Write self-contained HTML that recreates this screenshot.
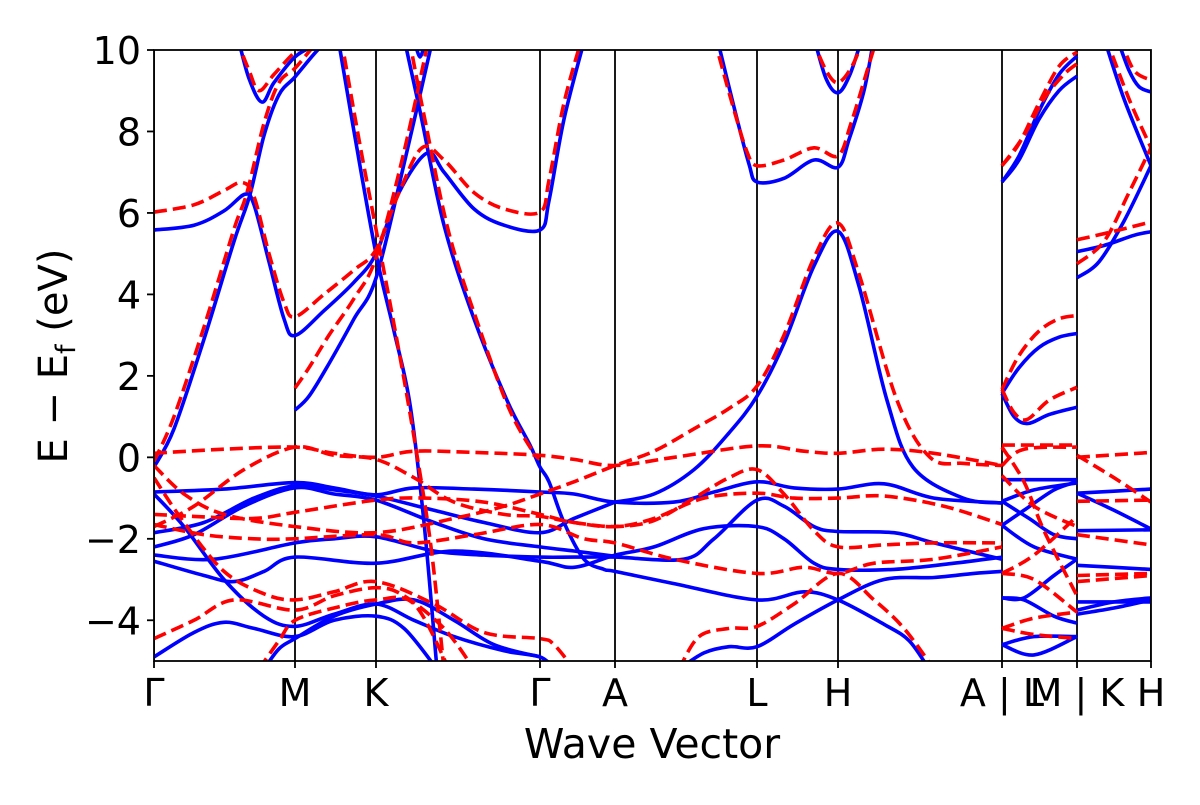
<!DOCTYPE html>
<html><head><meta charset="utf-8"><style>
html,body{margin:0;padding:0;background:#fff;}
svg text{font-family:"DejaVu Sans","Liberation Sans",sans-serif;fill:#000;}
</style></head><body>
<svg id="chart" width="1200" height="800" viewBox="0 0 1200 800" xmlns="http://www.w3.org/2000/svg">
<defs><clipPath id="plotclip"><rect x="154" y="50" width="997" height="611"/></clipPath></defs>
<rect width="1200" height="800" fill="#fff"/>
<g id="plot" clip-path="url(#plotclip)"></g>
<g id="axes"></g>
</svg>
<script>
const tickK = [0, 1.41, 2.22, 3.86, 4.61, 6.03, 6.84, 8.48, 9.23, 9.97];
const tickLabels = ["Γ", "M", "K", "Γ", "A", "L", "H", "A | L", "M | K", "H"];
const yTicks = [-4, -2, 0, 2, 4, 6, 8, 10];
const yTickLabels = ["−4", "−2", "0", "2", "4", "6", "8", "10"];
const kRange = [0, 9.97];
const eRange = [-5, 10];

const blueBands = [
 [[0,5.58],[0.4,5.7],[0.7,6.05],[0.91,6.46],[1.0,6.2],[1.15,4.8],[1.3,3.4],[1.41,2.99],[1.7,3.6],[2.0,4.3],[2.22,5.0],[2.45,6.5],[2.73,7.47],[2.9,7.0],[3.2,6.1],[3.5,5.7],[3.86,5.58],[3.95,6.3],[4.1,8.3],[4.31,10.3]],
 [[0,-0.24],[0.2,0.7],[0.5,2.9],[0.8,5.3],[0.96,6.45],[1.1,7.9],[1.25,8.9],[1.41,9.34],[1.6,9.9],[1.75,10.3]],
 [[0.84,10.3],[0.95,9.3],[1.08,8.72],[1.2,9.2],[1.41,9.83],[1.6,10.1],[1.8,10.3]],
 [[1.41,1.16],[1.55,1.5],[1.75,2.3],[2.0,3.4],[2.22,4.4],[2.5,7.2],[2.79,10.3]],
 [[1.84,10.3],[2.0,8.0],[2.22,5.0],[2.4,3.1],[2.56,1.3],[2.7,-1.6],[2.83,-5.2]],
 [[2.5,10.3],[2.66,8.5],[2.9,5.7],[3.2,3.4],[3.53,1.4],[3.76,0.3],[3.86,-0.24],[3.95,-0.6],[4.1,-1.6],[4.3,-2.5],[4.5,-2.75],[4.61,-2.8],[5.2,-3.1],[6.03,-3.5],[6.5,-3.3],[6.84,-3.5],[7.3,-4.1],[7.55,-4.5],[7.75,-5.2]],
 [[2.6,10.3],[2.66,9.83],[2.72,10.3]],
 [[0,-0.85],[0.7,-0.78],[1.41,-0.62],[1.8,-0.75],[2.22,-0.92],[2.6,-0.75],[3.2,-0.78],[3.86,-0.85],[4.2,-0.9],[4.61,-1.1],[5.2,-1.1],[5.6,-0.85],[6.03,-0.6],[6.4,-0.75],[6.84,-0.78],[7.3,-0.65],[7.8,-1.0],[8.48,-1.12]],
 [[0,-1.85],[0.5,-1.6],[1.0,-1.0],[1.41,-0.7],[1.8,-0.8],[2.22,-0.95],[2.8,-1.3],[3.3,-1.6],[3.86,-1.85],[4.2,-1.5],[4.61,-1.1]],
 [[0,-2.2],[0.4,-1.9],[0.9,-1.2],[1.41,-0.75],[1.8,-0.9],[2.22,-1.05],[2.8,-1.6],[3.3,-2.0],[3.86,-2.2],[4.2,-2.3],[4.61,-2.43]],
 [[0,-2.4],[0.6,-2.5],[1.41,-2.1],[1.8,-2.0],[2.22,-1.95],[2.8,-2.3],[3.3,-2.4],[3.86,-2.45],[4.2,-2.45],[4.61,-2.45],[5.3,-2.5],[5.6,-2.0],[6.03,-1.05],[6.3,-1.2],[6.6,-1.7],[6.84,-1.82],[7.4,-1.85],[7.8,-2.1],[8.48,-2.5]],
 [[0,-2.55],[0.5,-2.9],[0.8,-3.05],[1.1,-2.8],[1.41,-2.45],[2.22,-2.6],[3.0,-2.3],[3.86,-2.55],[4.2,-2.7],[4.61,-2.4],[5.0,-2.2],[5.5,-1.75],[6.03,-1.7],[6.3,-2.0],[6.6,-2.6],[6.84,-2.75],[7.4,-2.75],[8.0,-2.6],[8.48,-2.45]],
 [[0,-0.9],[0.3,-1.7],[0.7,-3.0],[1.1,-3.9],[1.41,-4.15],[1.8,-3.85],[2.22,-3.6],[2.6,-4.0],[3.0,-4.4],[3.5,-4.75],[3.86,-4.9],[4.0,-5.2]],
 [[0,-4.9],[0.4,-4.3],[0.7,-4.05],[1.0,-4.2],[1.41,-4.4],[1.8,-4.0],[2.22,-3.9],[2.5,-4.2],[2.83,-5.2]],
 [[1.1,-5.2],[1.25,-4.7],[1.41,-4.45],[1.8,-3.9],[2.22,-3.6],[2.6,-3.5],[3.0,-4.0],[3.4,-4.6],[3.86,-4.9]],
 [[4.61,-1.1],[5.0,-0.9],[5.4,-0.3],[5.75,0.6],[6.03,1.5],[6.3,2.8],[6.6,4.7],[6.84,5.55],[7.05,4.2],[7.33,1.4],[7.59,-0.24],[8.09,-1.0],[8.48,-1.12]],
 [[5.25,-5.2],[5.5,-4.8],[5.75,-4.65],[6.03,-4.65],[6.4,-4.1],[6.84,-3.5],[7.3,-3.0],[7.8,-2.95],[8.2,-2.85],[8.48,-2.8]],
 [[5.63,10.3],[5.8,8.6],[5.95,7.2],[6.03,6.76],[6.3,6.85],[6.6,7.3],[6.84,7.12],[6.95,7.8],[7.1,9.0],[7.2,10.3]],
 [[6.6,10.3],[6.72,9.3],[6.84,8.95],[6.96,9.4],[7.08,10.3]],
 [[8.48,6.76],[8.65,7.3],[8.85,8.3],[9.05,9.0],[9.23,9.36]],
 [[8.48,6.76],[8.65,7.4],[8.85,8.5],[9.05,9.4],[9.23,9.85]],
 [[8.48,1.57],[8.65,2.2],[8.85,2.7],[9.05,2.95],[9.23,3.04]],
 [[8.48,1.57],[8.6,1.0],[8.74,0.83],[8.95,1.05],[9.23,1.23]],
 [[8.48,-0.55],[9.23,-0.55]],
 [[8.48,-1.08],[8.8,-0.8],[9.23,-0.63]],
 [[8.48,-1.08],[8.75,-1.5],[9.0,-1.9],[9.23,-2.0]],
 [[8.48,-1.67],[8.7,-1.3],[9.0,-0.8],[9.23,-0.6]],
 [[8.48,-1.67],[8.8,-2.2],[9.23,-2.5]],
 [[8.48,-3.45],[8.7,-3.45],[9.0,-2.9],[9.23,-2.5]],
 [[8.48,-3.45],[8.7,-3.5],[9.0,-3.9],[9.23,-4.07]],
 [[8.48,-4.6],[8.8,-4.4],[9.23,-4.4]],
 [[8.48,-4.6],[8.8,-4.85],[9.23,-4.4]],
 [[9.23,5.05],[9.5,5.2],[9.8,5.45],[9.97,5.54]],
 [[9.23,4.41],[9.45,4.8],[9.7,5.8],[9.97,7.16]],
 [[9.5,10.3],[9.7,8.8],[9.97,7.16]],
 [[9.63,10.3],[9.75,9.5],[9.85,9.1],[9.97,8.97]],
 [[9.23,-0.88],[9.97,-0.78]],
 [[9.23,-0.88],[9.6,-1.3],[9.97,-1.76]],
 [[9.23,-1.8],[9.97,-1.78]],
 [[9.23,-2.65],[9.97,-2.75]],
 [[9.23,-3.55],[9.97,-3.55]],
 [[9.23,-3.85],[9.6,-3.7],[9.97,-3.5]],
 [[9.23,-3.75],[9.6,-3.55],[9.97,-3.45]]
];

const redBands = [
 [[0,6.02],[0.4,6.2],[0.7,6.55],[0.88,6.75],[1.0,6.4],[1.15,5.0],[1.3,3.8],[1.41,3.45],[1.7,4.0],[2.0,4.6],[2.22,5.1],[2.45,6.5],[2.68,7.6],[2.9,7.3],[3.2,6.5],[3.5,6.1],[3.86,6.02],[3.95,6.8],[4.1,8.7],[4.28,10.3]],
 [[0,-0.1],[0.2,1.0],[0.5,3.2],[0.8,5.6],[0.93,6.5],[1.1,8.2],[1.25,9.2],[1.41,9.55],[1.6,10.1],[1.7,10.3]],
 [[0.82,10.3],[0.95,9.5],[1.05,9.0],[1.2,9.4],[1.41,9.95],[1.6,10.3]],
 [[1.41,1.7],[1.55,2.2],[1.75,3.0],[2.0,3.9],[2.22,4.9],[2.5,7.5],[2.75,10.3]],
 [[1.87,10.3],[2.05,7.8],[2.22,5.6],[2.45,2.6],[2.62,0.2],[2.77,-2.2],[2.9,-5.2]],
 [[2.55,10.3],[2.7,8.4],[2.95,5.5],[3.25,3.2],[3.55,1.2],[3.8,0.1],[3.86,0.0]],
 [[0,0.1],[0.7,0.2],[1.41,0.25],[1.8,0.1],[2.22,0.0],[2.6,0.15],[3.2,0.12],[3.86,0.05],[4.2,-0.05],[4.61,-0.2],[5.2,0.0],[6.03,0.28],[6.5,0.15],[6.84,0.1],[7.3,0.2],[7.8,0.1],[8.48,-0.2]],
 [[0,-0.2],[0.3,-0.9],[0.7,-1.4],[1.41,-1.7],[2.22,-1.85],[3.0,-1.5],[3.5,-1.2],[3.86,-0.9],[4.2,-0.6],[4.61,-0.2],[5.0,0.15],[5.4,0.7],[5.75,1.2],[6.03,1.75],[6.3,3.0],[6.6,4.9],[6.84,5.75],[7.05,4.5],[7.43,1.4],[7.76,0.0],[8.1,-0.15],[8.48,-0.2]],
 [[0,-1.7],[0.4,-1.2],[0.9,-0.3],[1.41,0.25],[1.8,0.05],[2.22,-0.05],[2.6,-0.5],[3.0,-1.1],[3.5,-1.4],[3.86,-1.45],[4.2,-1.6],[4.61,-1.7],[5.0,-1.55],[5.4,-1.0],[5.75,-0.5],[6.03,-0.3],[6.3,-0.9],[6.6,-1.8],[6.84,-2.2],[7.3,-2.15],[7.8,-2.1],[8.48,-2.1]],
 [[0,-1.4],[0.4,-1.45],[1.0,-1.5],[1.41,-1.35],[2.22,-1.05],[2.7,-1.0],[3.3,-1.1],[3.86,-1.4],[4.2,-1.6],[4.61,-1.7],[5.0,-1.5],[5.5,-1.0],[6.03,-0.88],[6.4,-1.0],[6.84,-1.0],[7.3,-0.95],[7.9,-1.2],[8.48,-1.65]],
 [[0,-1.65],[0.5,-1.9],[1.0,-2.0],[1.41,-2.0],[2.22,-1.9],[2.6,-2.1],[3.2,-1.9],[3.86,-1.65],[4.3,-2.0],[4.61,-2.1],[5.2,-2.5],[6.03,-2.85],[6.5,-2.7],[6.84,-2.85],[7.2,-2.6],[7.8,-2.5],[8.48,-2.2]],
 [[0,-0.5],[0.3,-1.6],[0.7,-2.8],[1.1,-3.35],[1.41,-3.5],[1.8,-3.3],[2.22,-3.05],[2.8,-3.6],[3.3,-4.3],[3.86,-4.45],[4.0,-4.6],[4.2,-5.2]],
 [[0,-4.45],[0.4,-4.0],[0.8,-3.5],[1.41,-3.75],[1.8,-3.4],[2.22,-3.2],[2.5,-3.4],[2.9,-4.2],[3.2,-5.2]],
 [[1.05,-5.2],[1.25,-4.5],[1.41,-4.0],[1.8,-3.7],[2.22,-3.5],[2.6,-3.6],[2.95,-5.2]],
 [[5.25,-5.2],[5.45,-4.4],[5.75,-4.2],[6.03,-4.15],[6.4,-3.6],[6.84,-2.85],[7.2,-3.5],[7.5,-4.2],[7.8,-5.2]],
 [[5.6,10.3],[5.78,8.7],[5.93,7.5],[6.03,7.16],[6.3,7.3],[6.6,7.6],[6.84,7.4],[6.97,8.2],[7.12,9.4],[7.23,10.3]],
 [[6.58,10.3],[6.72,9.5],[6.84,9.2],[6.98,9.6],[7.1,10.3]],
 [[8.48,7.16],[8.65,7.7],[8.85,8.7],[9.05,9.6],[9.23,9.95]],
 [[8.48,7.16],[8.7,7.9],[8.9,8.8],[9.1,9.4],[9.23,9.66]],
 [[8.48,1.67],[8.65,2.5],[8.85,3.1],[9.05,3.4],[9.23,3.48]],
 [[8.48,1.67],[8.6,1.1],[8.73,0.93],[8.95,1.4],[9.23,1.72]],
 [[8.48,0.3],[9.23,0.3]],
 [[8.48,-0.2],[8.7,0.2],[9.23,0.25]],
 [[8.48,-0.45],[8.8,-1.2],[9.23,-1.7]],
 [[8.48,0.25],[8.7,-0.6],[8.9,-1.8],[9.23,-3.4]],
 [[8.48,-2.85],[8.8,-2.4],[9.23,-1.45]],
 [[8.48,-2.85],[8.8,-3.0],[9.23,-3.8]],
 [[8.48,-4.2],[8.8,-3.95],[9.23,-3.8]],
 [[8.48,-4.2],[8.8,-4.35],[9.23,-4.45]],
 [[9.23,5.34],[9.6,5.55],[9.97,5.78]],
 [[9.23,4.75],[9.5,5.3],[9.75,6.5],[9.97,7.6]],
 [[9.52,10.3],[9.75,8.8],[9.97,7.6]],
 [[9.66,10.3],[9.8,9.5],[9.97,9.26]],
 [[9.23,0.0],[9.97,0.12]],
 [[9.23,0.05],[9.6,-0.5],[9.97,-1.1]],
 [[9.23,-1.08],[9.97,-1.05]],
 [[9.23,-1.9],[9.97,-2.15]],
 [[9.23,-2.9],[9.97,-2.85]],
 [[9.23,-3.05],[9.97,-2.9]]
];

const NS = "http://www.w3.org/2000/svg";
const X0 = 154, X1 = 1151, Y0 = 661, Y1 = 50;
function xScale(k){ return X0 + (k - kRange[0]) / (kRange[1] - kRange[0]) * (X1 - X0); }
function yScale(e){ return Y0 - (e - eRange[0]) / (eRange[1] - eRange[0]) * (Y0 - Y1); }
function mk(tag, attrs){ const el = document.createElementNS(NS, tag); for (const a in attrs) el.setAttribute(a, attrs[a]); return el; }
function smoothPath(pts){
  const p = pts.map(q => [xScale(q[0]), yScale(q[1])]);
  let d = "M" + p[0][0].toFixed(1) + "," + p[0][1].toFixed(1);
  for (let i = 0; i < p.length - 1; i++){
    const a = p[i-1] || p[i], b = p[i], c = p[i+1], e = p[i+2] || p[i+1];
    const c1 = [b[0] + (c[0]-a[0])/6, b[1] + (c[1]-a[1])/6];
    const c2 = [c[0] - (e[0]-b[0])/6, c[1] - (e[1]-b[1])/6];
    d += " C" + c1[0].toFixed(1) + "," + c1[1].toFixed(1) + " " + c2[0].toFixed(1) + "," + c2[1].toFixed(1) + " " + c[0].toFixed(1) + "," + c[1].toFixed(1);
  }
  return d;
}
const plot = document.getElementById("plot");
const axes = document.getElementById("axes");

tickK.forEach((k, i) => {
  const ln = mk("line", {x1: xScale(k), x2: xScale(k), y1: Y1, y2: Y0, stroke: "#000", "stroke-width": 1.8});
  
  
  plot.appendChild(ln);
});
blueBands.forEach((b, i) => {
  const path = mk("path", {d: smoothPath(b), fill: "none", stroke: "#0000ff", "stroke-width": 3.6, "stroke-linejoin": "round"});
  
  
  plot.appendChild(path);
});
redBands.forEach((b, i) => {
  const path = mk("path", {d: smoothPath(b), fill: "none", stroke: "#ff0000", "stroke-width": 3.6, "stroke-dasharray": "13,6"});
  
  
  plot.appendChild(path);
});

const frame = mk("rect", {x: X0, y: Y1, width: X1 - X0, height: Y0 - Y1, fill: "none", stroke: "#000", "stroke-width": 1.8});


axes.appendChild(frame);

yTicks.forEach((v, i) => {
  const y = yScale(v);
  const t = mk("line", {x1: X0 - 7, x2: X0, y1: y, y2: y, stroke: "#000", "stroke-width": 1.8});
  
  
  axes.appendChild(t);
  const lb = mk("text", {x: X0 - 13, y: y + 14, "text-anchor": "end", "font-size": 38});
  lb.textContent = yTickLabels[i];
  
  
  axes.appendChild(lb);
});
tickK.forEach((k, i) => {
  const x = xScale(k);
  const t = mk("line", {x1: x, x2: x, y1: Y0, y2: Y0 + 7, stroke: "#000", "stroke-width": 1.8});
  
  
  axes.appendChild(t);
  const lb = mk("text", {x: x, y: 706, "text-anchor": "middle", "font-size": 38});
  lb.textContent = tickLabels[i];
  
  
  axes.appendChild(lb);
});
const xt = mk("text", {x: 652, y: 758, "text-anchor": "middle", "font-size": 41});
xt.textContent = "Wave Vector";


axes.appendChild(xt);
const yt = mk("text", {x: 0, y: 0, "text-anchor": "middle", "font-size": 40, transform: "translate(67,356) rotate(-90)"});
yt.innerHTML = 'E − E<tspan font-size="27" dy="8">f</tspan><tspan dy="-8"> (eV)</tspan>';


axes.appendChild(yt);
</script>
</body></html>
